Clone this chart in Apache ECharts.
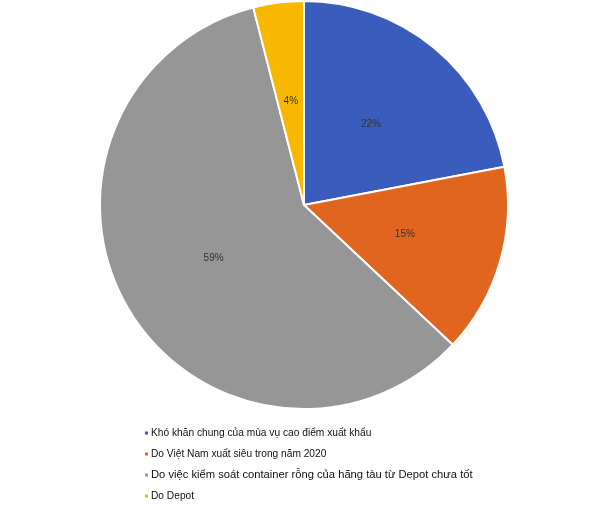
<!DOCTYPE html>
<html><head><meta charset="utf-8">
<script src="https://cdn.jsdelivr.net/npm/echarts@6/dist/echarts.min.js"></script>
<style>html,body{margin:0;padding:0;background:#fff}#c{width:600px;height:509px}</style>
</head><body><div id="c"></div>
<script>
var categories = ["Khó khăn chung của mùa vụ cao điểm xuất khẩu", "Do Việt Nam xuất siêu trong năm 2020", "Do việc kiểm soát container rỗng của hãng tàu từ Depot chưa tốt", "Do Depot"];
var values = [22, 15, 59, 4];
var colors = ["#3A5CBD", "#E0651F", "#969696", "#F8B701"];
var chart = echarts.init(document.getElementById('c'));
chart.setOption({
  animation: false,
  color: colors,
  legend: {
    orient: 'vertical', left: 138, top: 421, height: 90, itemWidth: 5, itemHeight: 5, itemGap: 7,
    icon: 'rect',
    textStyle: {fontFamily: '"Liberation Sans", Arial, sans-serif', fontSize: 10.2, color: '#111', lineHeight: 14, padding: [0,0,0,-3]},
    data: categories.map(function(n, i){
      return i === 2 ? {name: n, textStyle: {fontSize: 11.2, lineHeight: 14}} : {name: n};
    })
  },
  series: [{
    type: 'pie', center: [304, 205], radius: 204, startAngle: 90, clockwise: true,
    itemStyle: {borderColor: '#fff', borderWidth: 2},
    label: {position: 'inside', formatter: '{c}%', color: '#333', fontSize: 10, fontFamily: 'Liberation Sans, Arial, sans-serif'},
    labelLine: {show: false},
    data: categories.map(function(n, i){ return {name: n, value: values[i]}; })
  }]
});
</script></body></html>
